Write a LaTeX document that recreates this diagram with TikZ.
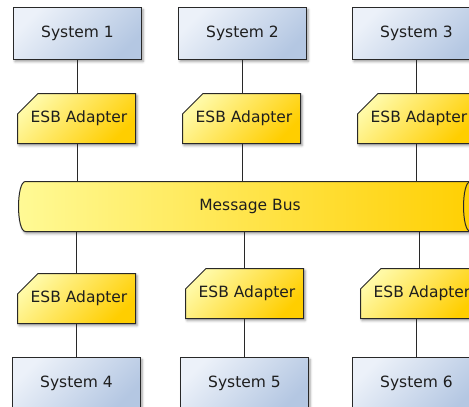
\documentclass[tikz,border=0pt]{standalone}
\usepackage{fontspec}
\setmainfont{DejaVu Sans}
\usetikzlibrary{shapes.misc,shadows.blur}
\definecolor{sysLight}{RGB}{236,241,249}
\definecolor{sysDark}{RGB}{180,199,226}
\definecolor{adLight}{RGB}{255,249,165}
\definecolor{adDark}{RGB}{255,206,0}
\definecolor{busLeft}{RGB}{255,250,150}
\definecolor{busRight}{RGB}{255,207,0}
\definecolor{edge}{RGB}{40,40,40}
\definecolor{txt}{RGB}{30,30,30}
\tikzset{
  sysbox/.style={rectangle, draw=edge, line width=1pt, top color=sysLight, bottom color=sysDark, shading angle=45,
    minimum width=128pt, minimum height=52pt, inner sep=0pt, outer sep=0pt, font=\fontsize{15.5}{18}\selectfont, text=txt,
    blur shadow={shadow xshift=1.5pt, shadow yshift=-2pt, shadow blur radius=2.5pt, shadow opacity=40}},
  adapter/.style={chamfered rectangle, chamfered rectangle corners=north west, chamfered rectangle xsep=13pt, chamfered rectangle ysep=13pt,
    draw=edge, line width=1pt, top color=adLight, bottom color=adDark, shading angle=45,
    minimum width=118pt, minimum height=50pt, inner sep=0pt, outer sep=0pt, font=\fontsize{15.5}{18}\selectfont, text=txt,
    blur shadow={shadow xshift=1.5pt, shadow yshift=-2pt, shadow blur radius=2.5pt, shadow opacity=40}},
  bustext/.style={rectangle, minimum width=445pt, minimum height=50pt, inner sep=0pt, outer sep=0pt, font=\fontsize{15.5}{18}\selectfont, text=txt},
  link/.style={draw=edge, line width=1pt}
}
\begin{document}
\begin{tikzpicture}[x=1pt,y=-1pt]
\useasboundingbox (0,0) rectangle (469,407);
\clip (0,0) rectangle (469,407);
% message bus body
\path[draw=edge, line width=1pt, left color=busLeft, right color=busRight,
  blur shadow={shadow xshift=1.5pt, shadow yshift=-2pt, shadow blur radius=2.5pt, shadow opacity=40}]
  (25.5,181.5) -- (470.5,181.5) .. controls (479.8,181.5) and (479.8,231.5) .. (470.5,231.5)
  -- (25.5,231.5) .. controls (16.2,231.5) and (16.2,181.5) .. (25.5,181.5) -- cycle;
\draw[link] (470.5,181.5) .. controls (461.2,181.5) and (461.2,231.5) .. (470.5,231.5);
\node[bustext] (bus) at (250,206.5) {Message Bus};
% systems
\node[sysbox] (s1) at (77.5,33.5) {System 1};
\node[sysbox] (s2) at (242.5,33.5) {System 2};
\node[sysbox] (s3) at (416.5,33.5) {System 3};
\node[sysbox] (s4) at (76.5,383.5) {System 4};
\node[sysbox] (s5) at (244.5,383.5) {System 5};
\node[sysbox] (s6) at (416.5,383.5) {System 6};
% adapters
\node[adapter] (a1) at (76.5,118.5) {\hspace*{5pt}ESB Adapter};
\node[adapter] (a2) at (241.5,118.5) {\hspace*{5pt}ESB Adapter};
\node[adapter] (a3) at (416.5,118.5) {\hspace*{5pt}ESB Adapter};
\node[adapter] (a4) at (76.5,298.5) {\hspace*{5pt}ESB Adapter};
\node[adapter] (a5) at (244.5,293.5) {\hspace*{5pt}ESB Adapter};
\node[adapter] (a6) at (419.5,293.5) {\hspace*{5pt}ESB Adapter};
% connectors
\draw[link] (s1.south) -- (s1.south |- a1.north);
\draw[link] (a1.south -| s1.south) -- (s1.south |- bus.north);
\draw[link] (s2.south) -- (s2.south |- a2.north);
\draw[link] (a2.south -| s2.south) -- (s2.south |- bus.north);
\draw[link] (s3.south) -- (s3.south |- a3.north);
\draw[link] (a3.south -| s3.south) -- (s3.south |- bus.north);
\draw[link] (bus.south -| s4.north) -- (s4.north |- a4.north);
\draw[link] (a4.south -| s4.north) -- (s4.north);
\draw[link] (bus.south -| s5.north) -- (s5.north |- a5.north);
\draw[link] (a5.south -| s5.north) -- (s5.north);
\draw[link] (bus.south -| a6.north) -- (a6.north);
\draw[link] (a6.south -| s6.north) -- (s6.north);
\end{tikzpicture}
\end{document}
